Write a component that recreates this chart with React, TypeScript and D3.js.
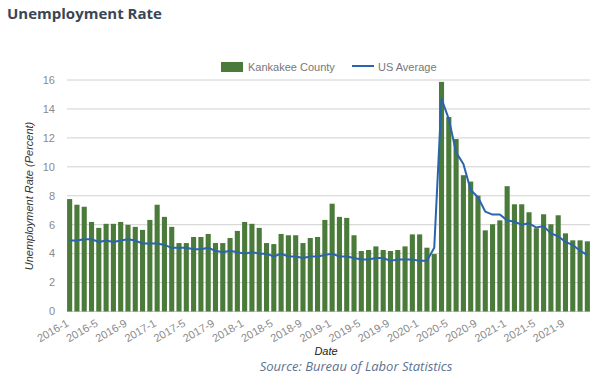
import React from "react";
import * as d3 from "d3";

const years = [2016, 2017, 2018, 2019, 2020, 2021];
const months = d3.range(1, 13);
const dates: string[] = years.flatMap((y) => months.map((m) => `${y}-${m}`));

const kankakee = [
  7.77, 7.38, 7.24, 6.19, 5.78, 6.06, 6.06, 6.19, 5.99, 5.85, 5.64, 6.33,
  7.38, 6.54, 5.85, 4.73, 4.73, 5.15, 5.15, 5.36, 4.73, 4.73, 5.08, 5.57,
  6.19, 6.06, 5.78, 4.73, 4.66, 5.36, 5.27, 5.27, 4.73, 5.08, 5.15, 6.33,
  7.45, 6.54, 6.47, 5.27, 4.18, 4.25, 4.5, 4.25, 4.18, 4.25, 4.5, 5.33,
  5.33, 4.41, 3.97, 15.87, 13.44, 11.92, 9.42, 8.98, 8.01, 5.61, 6.03, 6.3,
  8.66, 7.41, 7.41, 6.86, 5.75, 6.72, 6.03, 6.65, 5.4, 4.92, 4.92, 4.85,
];

const usAverage = [
  4.9, 4.9, 5.0, 5.0, 4.8, 4.9, 4.8, 4.9, 5.0, 4.9, 4.7, 4.7,
  4.7, 4.6, 4.4, 4.4, 4.4, 4.3, 4.3, 4.4, 4.2, 4.1, 4.2, 4.1,
  4.0, 4.1, 4.0, 4.0, 3.8, 4.0, 3.8, 3.8, 3.7, 3.8, 3.8, 3.9,
  4.0, 3.8, 3.8, 3.7, 3.6, 3.6, 3.7, 3.7, 3.5, 3.6, 3.6, 3.6,
  3.5, 3.5, 4.4, 14.7, 13.3, 11.0, 10.2, 8.4, 7.9, 6.9, 6.7, 6.7,
  6.3, 6.2, 6.0, 6.1, 5.8, 5.9, 5.4, 5.2, 4.8, 4.6, 4.2, 3.9,
];

const yTicks = [0, 2, 4, 6, 8, 10, 12, 14, 16];
const xTickLabels = dates.filter((_, i) => i % 4 === 0);

const W = 605;
const H = 379;
const BAR = "#4a7b3a";
const LINE = "#2a64ad";
const FONT = "Arial, 'Liberation Sans', sans-serif";

export default function App() {
  const x = d3
    .scaleBand<string>()
    .domain(dates)
    .range([66, 591])
    .paddingInner(0.3)
    .paddingOuter(0.15);
  const y = d3.scaleLinear().domain([0, 16]).range([311.5, 80]);

  const line = d3
    .line<number>()
    .x((_, i) => (x(dates[i]) as number) + x.bandwidth() / 2)
    .y((d) => y(d));

  return (
    <svg
      width={W}
      height={H}
      style={{ position: "absolute", left: 0, top: 0, background: "#fff" }}
    >
      <text
        x={7}
        y={19}
        fontFamily="'Open Sans', sans-serif"
        fontWeight={700}
        fontSize={15}
        fill="#3b4654"
      >
        Unemployment Rate
      </text>

      {/* legend */}
      <rect x={221} y={62} width={22} height={10} fill={BAR} />
      <text x={248} y={70.5} fontFamily={FONT} fontSize={11} fill="#777">
        Kankakee County
      </text>
      <line x1={352} x2={374} y1={66} y2={66} stroke={LINE} strokeWidth={2} />
      <text x={378} y={70.5} fontFamily={FONT} fontSize={11} fill="#777">
        US Average
      </text>

      {/* grid + y ticks */}
      {yTicks.map((t) => (
        <g key={t}>
          <line x1={67} x2={590} y1={y(t)} y2={y(t)} stroke="#d0d0d0" strokeWidth={1} />
          <text
            x={55}
            y={y(t)}
            dy="0.35em"
            textAnchor="end"
            fontFamily={FONT}
            fontSize={11}
            fill="#8a8a8a"
          >
            {t}
          </text>
        </g>
      ))}

      {/* bars */}
      {kankakee.map((v, i) => (
        <rect
          key={dates[i]}
          x={x(dates[i])}
          y={y(v)}
          width={x.bandwidth()}
          height={y(0) - y(v)}
          fill={BAR}
        />
      ))}

      {/* line */}
      <path d={line(usAverage) || ""} fill="none" stroke={LINE} strokeWidth={2} strokeLinejoin="round" />

      {/* x tick labels */}
      {xTickLabels.map((d) => {
        const cx = (x(d) as number) + x.bandwidth() / 2;
        return (
          <text
            key={d}
            transform={`translate(${cx - 2},${322}) rotate(-30)`}
            textAnchor="end"
            fontFamily={FONT}
            fontSize={11}
            fill="#8a8a8a"
            dy="0.35em"
          >
            {d}
          </text>
        );
      })}

      {/* axis titles */}
      <text
        transform={`translate(33,196) rotate(-90)`}
        textAnchor="middle"
        fontFamily={FONT}
        fontStyle="italic"
        fontSize={11}
        fill="#333"
      >
        Unemployment Rate (Percent)
      </text>
      <text
        x={326}
        y={355}
        textAnchor="middle"
        fontFamily={FONT}
        fontStyle="italic"
        fontSize={11}
        fill="#222"
      >
        Date
      </text>
      <text
        x={356}
        y={371}
        textAnchor="middle"
        fontFamily="'Open Sans', sans-serif"
        fontStyle="italic"
        fontSize={13}
        fill="#5d7290"
      >
        Source: Bureau of Labor Statistics
      </text>
    </svg>
  );
}
